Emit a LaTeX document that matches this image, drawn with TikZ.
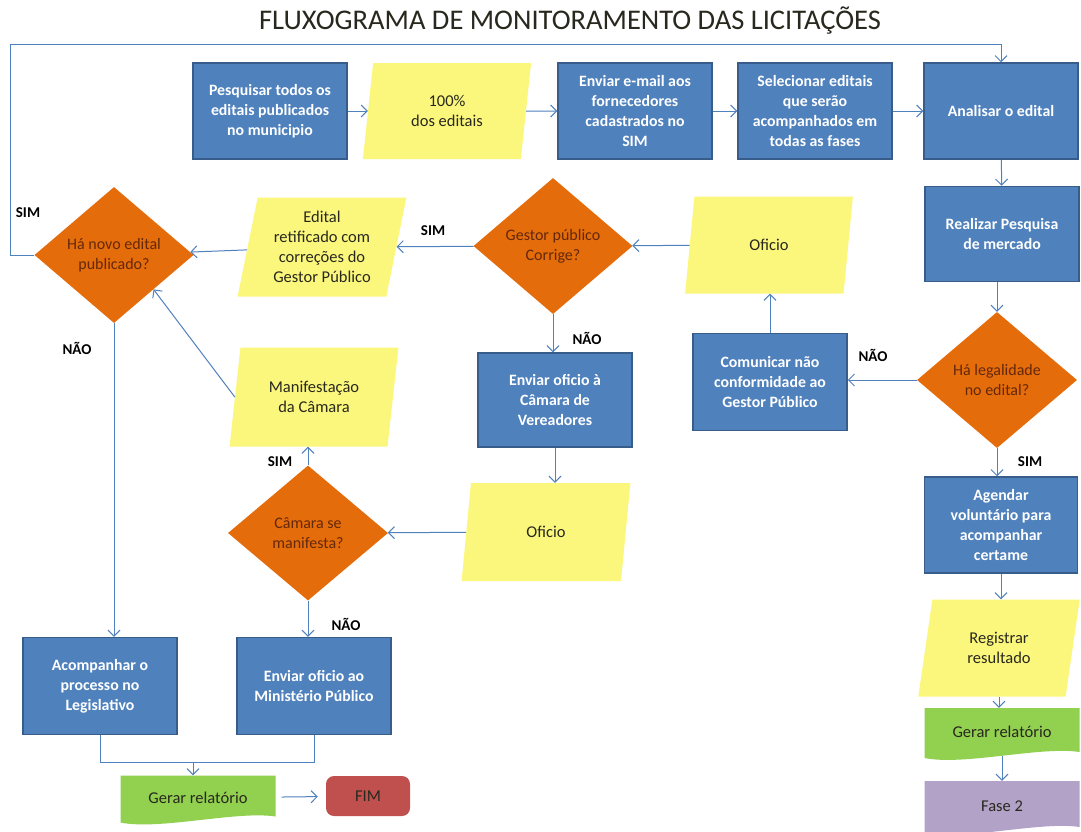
\documentclass[tikz,border=0pt]{standalone}
\usepackage{fontspec}
\setmainfont{Carlito}
\usetikzlibrary{shapes.geometric,arrows.meta}

\definecolor{boxblue}{RGB}{79,129,189}
\definecolor{boxedge}{RGB}{56,93,138}
\definecolor{decorange}{RGB}{228,108,10}
\definecolor{dectext}{RGB}{100,40,10}
\definecolor{iofill}{RGB}{251,247,125}
\definecolor{repgreen}{RGB}{146,208,80}
\definecolor{endred}{RGB}{192,80,77}
\definecolor{phasepurple}{RGB}{179,162,199}
\definecolor{flow}{RGB}{79,129,189}
\definecolor{darktext}{RGB}{40,40,30}

% filled "document" shape: straight top, wavy bottom edge
\newcommand\wavybox[5]{%
  \fill[#5] ({#1-#3/2},{#2-#4/2}) -- ({#1+#3/2},{#2-#4/2}) -- ({#1+#3/2},{#2+#4/2-4})
    .. controls ({#1+#3/4},{#2+#4/2-10}) and ({#1-#3/4},{#2+#4/2+10}) .. ({#1-#3/2},{#2+#4/2+2}) -- cycle;}

\begin{document}
\begin{tikzpicture}[x=1pt,y=-1pt,
  process/.style={rectangle, fill=boxblue, draw=boxedge, line width=1.5pt, text=white,
    font=\fontsize{15.8}{20}\selectfont\bfseries, align=center, inner sep=2pt,
    minimum width=154},
  io/.style={trapezium, trapezium left angle=78, trapezium right angle=102,
    trapezium stretches=true, fill=iofill, text=darktext,
    font=\fontsize{16.5}{20}\selectfont, align=center, inner sep=0pt},
  decision/.style={diamond, fill=decorange, text=dectext,
    font=\fontsize{16}{20}\selectfont, align=center, inner sep=0pt},
  docnode/.style={rectangle, inner sep=0pt, text=darktext, font=\fontsize{16.5}{20}\selectfont},
  flowline/.style={draw=flow, line width=1pt},
  arr/.style={flowline, -{Straight Barb[length=6pt,width=12pt]}},
  lbl/.style={font=\fontsize{15}{17}\selectfont\bfseries, text=black}
]
\useasboundingbox[fill=white] (0,0) rectangle (1081,831);

% title
\node[font=\fontsize{28.5}{31}\selectfont, text=darktext] (title) at (570,21) {FLUXOGRAMA DE MONITORAMENTO DAS LICITAÇÕES};

% top row
\node[process, minimum height=96] (pesq) at (270,111) {Pesquisar todos os\\editais publicados\\no municipio};
\node[io, minimum width=169, minimum height=96, trapezium left angle=81, trapezium right angle=99] (cem) at (447,111) {100\%\\dos editais};
\node[process, minimum height=96] (email) at (635,111) {Enviar e-mail aos\\fornecedores\\cadastrados no\\SIM};
\node[process, minimum height=96] (selec) at (815,111) {Selecionar editais\\que serão\\acompanhados em\\todas as fases};
\node[process, minimum height=96] (anal) at (1001,111) {Analisar o edital};

% right column
\node[process, minimum height=95] (realiz) at (1002,234) {Realizar Pesquisa\\de mercado};
\node[decision, minimum width=160, minimum height=136] (legal) at (997,380) {Há legalidade\\no edital?};
\node[process, minimum width=153, minimum height=96] (agend) at (1001,525) {Agendar\\voluntário para\\acompanhar\\certame};
\node[io, minimum width=162, minimum height=97] (regis) at (999,648) {Registrar\\resultado};
\wavybox{1002}{732}{155}{48}{repgreen}
\node[docnode, minimum width=155, minimum height=48] (gerarR) at (1002,732) {Gerar relatório};
\wavybox{1002}{806}{155}{50}{phasepurple}
\node[docnode, minimum width=155, minimum height=50] (fase) at (1002,806) {Fase 2};

% middle
\node[io, minimum width=168, minimum height=97] (ofA) at (769,245) {Oficio};
\node[process, minimum height=97] (comun) at (770,382) {Comunicar não\\conformidade ao\\Gestor Público};
\node[decision, minimum width=159, minimum height=136] (gestor) at (553,246) {Gestor público\\Corrige?};
\node[process, minimum height=94] (envcam) at (555,400) {Enviar oficio à\\Câmara de\\Vereadores};
\node[io, minimum width=169, minimum height=98] (ofB) at (546,532) {Oficio};
\node[decision, minimum width=160, minimum height=135] (camara) at (308,533) {Câmara se\\manifesta?};
\node[io, minimum width=169, minimum height=99] (manif) at (314,397) {Manifestação\\da Câmara};
\node[io, minimum width=169, minimum height=99] (edital) at (322,247) {Edital\\retificado com\\correções do\\Gestor Público};

% left
\node[decision, minimum width=159, minimum height=136] (hanovo) at (114,255) {Há novo edital\\publicado?};
\node[process, minimum height=97] (acomp) at (100,686) {Acompanhar o\\processo no\\Legislativo};
\node[process, minimum height=97] (mp) at (314,686) {Enviar oficio ao\\Ministério Público};
\wavybox{198}{798}{155}{45}{repgreen}
\node[docnode, minimum width=155, minimum height=45] (gerarL) at (198,798) {Gerar relatório};
\node[rectangle, rounded corners=8pt, fill=endred, minimum width=84, minimum height=40, text=darktext,
  font=\fontsize{16.5}{20}\selectfont] (fim) at (368,796) {FIM};

% connectors
\draw[arr] (pesq) -- (cem);
\draw[arr] (cem) -- (email);
\draw[arr] (email) -- (selec);
\draw[arr] (selec) -- (anal);
\draw[arr] (anal) -- (realiz);
\draw[arr] (legal.north |- realiz.south) -- (legal.north);
\draw[arr] (legal.south) -- (legal.south |- agend.north);
\draw[arr] (legal.west) -- (legal.west -| comun.east);
\draw[arr] (comun.north) -- (comun.north |- ofA.south);
\draw[arr] (ofA) -- (gestor);
\draw[arr] (gestor) -- (edital);
\draw[arr] (edital) -- (hanovo);
\draw[arr] (gestor.south) -- (gestor.south |- envcam.north);
\draw[arr] (envcam.south) -- (envcam.south |- ofB.north);
\draw[arr] (ofB) -- (camara);
\draw[arr] (camara.north) -- (camara.north |- manif.south);
\draw[arr] (manif.west) -- (hanovo.-41);
\draw[arr] (camara.south) -- (camara.south |- mp.north);
\draw[arr] (hanovo.south) -- (hanovo.south |- acomp.north);
\draw[arr] (hanovo.west) -| (10,44) -| (anal.north);
\coordinate (join) at (193,762);
\draw[flowline] (acomp.south) |- (mp.south |- join) -- (mp.south);
\draw[arr] (join) -- (join |- gerarL.north);
\draw[arr, shorten <=6pt, shorten >=8pt] (gerarL) -- (fim);
\draw[arr] (agend.south) -- (agend.south |- regis.north);
\draw[arr] (regis.south) -- (regis.south |- gerarR.north);
\draw[arr] (gerarR.south) -- (gerarR.south |- fase.north);

% branch labels
\node[lbl] (l1) at (28,213) {SIM};
\node[lbl] (l2) at (433,231) {SIM};
\node[lbl] (l3) at (77,348) {NÃO};
\node[lbl] (l4) at (587,338) {NÃO};
\node[lbl] (l5) at (873,355) {NÃO};
\node[lbl] (l6) at (1030,462) {SIM};
\node[lbl] (l7) at (280,462) {SIM};
\node[lbl] (l8) at (346,624) {NÃO};
\end{tikzpicture}
\end{document}
